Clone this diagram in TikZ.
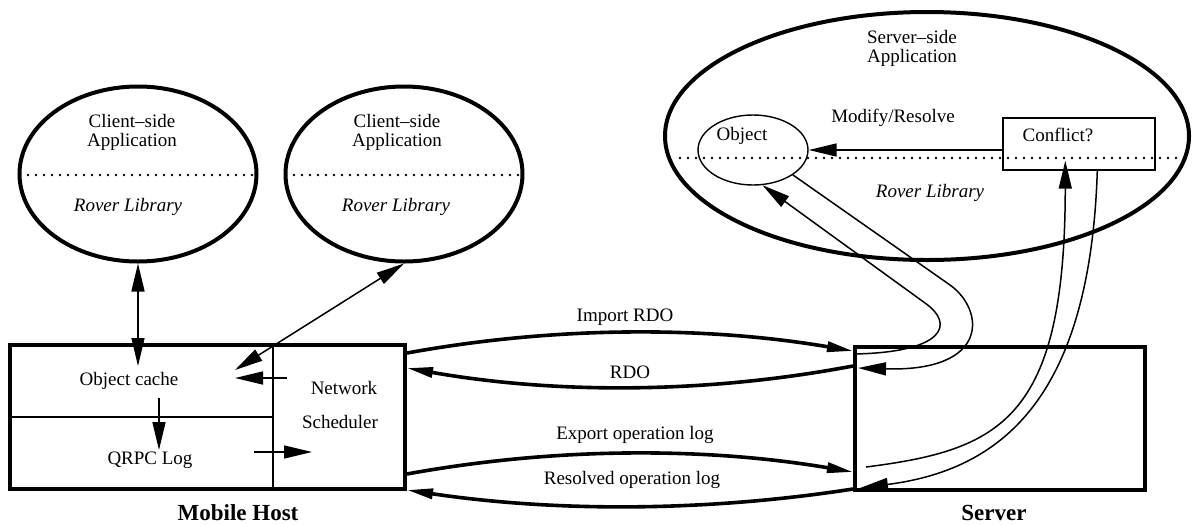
\documentclass[tikz,border=0pt]{standalone}
\usepackage{fontspec}
\setmainfont{Liberation Serif}
\usetikzlibrary{arrows.meta,shapes.geometric,calc}
\begin{document}
\begin{tikzpicture}[x=0.5pt,y=-0.5pt,
  lbl/.style={font=\fontsize{9.5}{9.5}\selectfont, inner sep=0pt, align=center},
  bold/.style={font=\fontsize{11.5}{11.5}\selectfont\bfseries, inner sep=0pt},
  bigell/.style={draw, ellipse, line width=2pt, inner sep=0pt},
  bigbox/.style={draw, rectangle, line width=2pt, inner sep=0pt},
  thinline/.style={line width=0.75pt},
  dotline/.style={line width=1.3pt, dash pattern=on 0pt off 4pt, line cap=round},
  tip/.style={thinline, -{Triangle[length=14pt,width=6.5pt]}},
  dtip/.style={thinline, {Triangle[length=14pt,width=6.5pt]}-{Triangle[length=14pt,width=6.5pt]}},
  thicktip/.style={line width=1.8pt, -{Triangle[length=13pt,width=5pt]}}]
\useasboundingbox (0,0) rectangle (1194,525);

% client ellipses
\node[bigell, minimum width=118.5pt, minimum height=87.5pt] (c1) at (138,174) {};
\node[bigell, minimum width=118.5pt, minimum height=87.5pt] (c2) at (404,174) {};
\draw[dotline] (28,175) -- (255,175);
\draw[dotline] (294,175) -- (520,175);
\node[lbl] (c1t) at (132,132) {Client--side\\Application};
\node[lbl] (c2t) at (397,132) {Client--side\\Application};
\node[lbl, font=\fontsize{9.5}{9.5}\selectfont\itshape] (c1r) at (128,207) {Rover Library};
\node[lbl, font=\fontsize{9.5}{9.5}\selectfont\itshape] (c2r) at (396,207) {Rover Library};

% server-side ellipse
\node[bigell, minimum width=262pt, minimum height=124pt] (sa) at (927,136) {};
\draw[dotline] (680,158) -- (1189,158);
\node[lbl] (sat) at (912,48) {Server--side\\Application};
\node[lbl, font=\fontsize{9.5}{9.5}\selectfont\itshape] (sar) at (930,193) {Rover Library};
\node[draw, ellipse, line width=0.7pt, minimum width=55pt, minimum height=35pt, inner sep=0pt] (obj) at (753,150) {};
\node[lbl] (objt) at (742,136) {Object};
\node[draw, rectangle, line width=0.7pt, minimum width=76pt, minimum height=26pt, inner sep=0pt] (conf) at (1079,144) {};
\node[lbl] (conft) at (1058,135) {Conflict?};
\draw[tip] (conf.west |- obj.east) -- (obj.east);
\node[lbl] (modt) at (893,118) {Modify/Resolve};

% mobile host box
\node[bigbox, minimum width=197.5pt, minimum height=72pt] (mob) at (207.5,417) {};
\draw[thinline] (273,345) -- (273,489);
\draw[thinline] (10,417) -- (273,417);
\node[lbl] (oc) at (129,381) {Object cache};
\node[lbl] (ql) at (150,460) {QRPC Log};
\node[lbl] (nw) at (344,388) {Network};
\node[lbl] (sc) at (340,422) {Scheduler};
\node[bold] (mh) at (238,513) {Mobile Host};
\coordinate (ocin) at (138,366);
\coordinate (ocdiag) at (235,370);
\draw[tip] (159,398) -- (159,450);
\draw[tip] (287,378) -- (235,378);
\draw[tip] (254,452) -- (312,452);
\draw[dtip] (c1.south) -- (ocin);
\draw[dtip] (c2.south) -- (ocdiag);

% server box
\node[bigbox, minimum width=145pt, minimum height=71.5pt] (srv) at (1000,418.5) {};
\node[bold] (svt) at (994,513) {Server};

% thick arrows between boxes
\draw[thicktip] ($(mob.north east)+(0,10)$) .. controls (555,326) and (705,326) .. ($(srv.north west)+(0,6)$);
\draw[thicktip] ($(srv.north west)+(0,21)$) .. controls (705,394) and (555,394) .. ($(mob.north east)+(0,25)$);
\draw[thicktip] ($(mob.south east)+(0,-17)$) .. controls (555,447) and (705,447) .. ($(srv.south west)+(0,-20)$);
\draw[thicktip] ($(srv.south west)+(0,-3)$) .. controls (705,512) and (555,512) .. ($(mob.south east)+(0,-1)$);
\node[lbl] (imp) at (625,317) {Import RDO};
\node[lbl] (rdo) at (630,372) {RDO};
\node[lbl] (exp) at (635,435) {Export operation log};
\node[lbl] (res) at (632,480) {Resolved operation log};

% curves to object
\draw[tip] ($(srv.north west)+(2,9)$) .. controls (945,352) and (955,324) .. (925,303) -- (obj.-75);
\draw[tip] (obj.-32) -- (950,285) .. controls (985,310) and (990,372) .. ($(srv.north west)+(5,23)$);

% curves to conflict
\draw[tip] ($(srv.south west)+(13,-25)$) .. controls (1000,450) and (1065,420) .. ($(conf.south west)+(63,-10)$);
\draw[tip] ($(conf.south west)+(95,0)$) .. controls (1090,400) and (1000,470) .. ($(srv.south west)+(7,-4)$);
\end{tikzpicture}
\end{document}
